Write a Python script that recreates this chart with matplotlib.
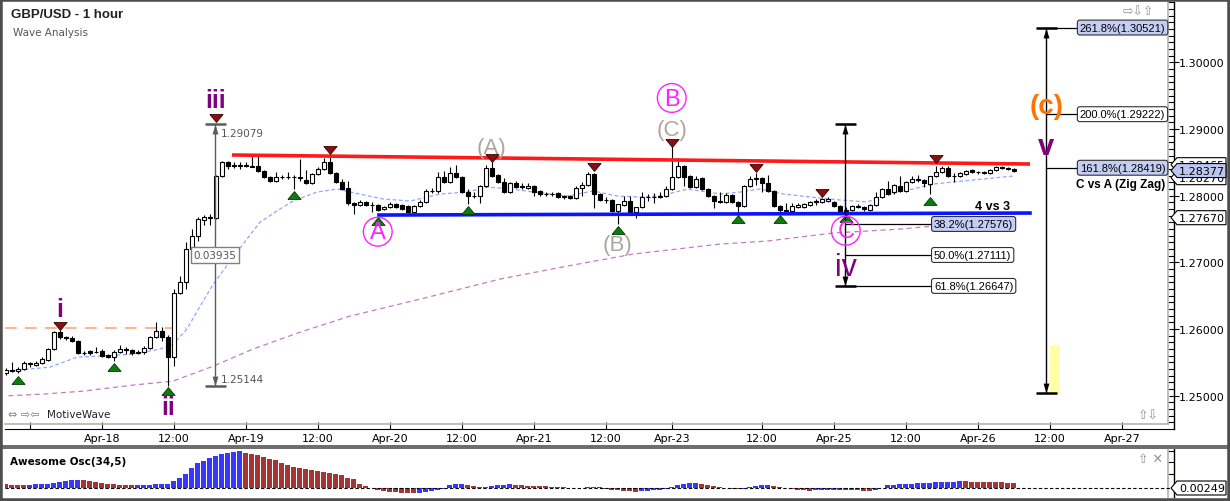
import numpy as np
import matplotlib
matplotlib.use("Agg")
import matplotlib.pyplot as plt
from matplotlib.patches import Polygon, Rectangle
from matplotlib.lines import Line2D
from matplotlib.transforms import IdentityTransform
from matplotlib.ticker import MultipleLocator, FixedLocator, FuncFormatter

plt.rcParams['font.family'] = ['DejaVu Sans']
LS = 'Liberation Sans'

# ---------------- data (bar index 0 = Apr-18 00:00, 1 bar = 1 hour) ----------------
first_bar = -16
opens = [
    1.2534, 1.2538, 1.2537, 1.2540, 1.2549, 1.2546, 1.2549, 1.25535, 1.2570, 1.2595,
    1.2588, 1.25865, 1.2582, 1.2564, 1.2567, 1.2565, 1.2567, 1.2561, 1.2558, 1.25655,
    1.2570, 1.25685, 1.2564, 1.25655, 1.25715, 1.2588, 1.2597, 1.2588, 1.2558, 1.2654,
    1.26705, 1.2720, 1.27395, 1.27635, 1.2768, 1.27665, 1.28295, 1.28505, 1.28445, 1.2846,
    1.2845, 1.28445, 1.28445, 1.2837, 1.2828, 1.2822, 1.2828, 1.28275, 1.2828, 1.28275,
    1.28235, 1.2819, 1.28325, 1.2840, 1.28505, 1.2834, 1.28205, 1.28115, 1.2789, 1.2786,
    1.27905, 1.2786, 1.2786, 1.2780, 1.2783, 1.27875, 1.2786, 1.27845, 1.27755, 1.27845,
    1.27905, 1.2807, 1.28065, 1.2828, 1.28205, 1.2834, 1.2828, 1.28055, 1.27995, 1.2799,
    1.28145, 1.28415, 1.2831, 1.28205, 1.28055, 1.2819, 1.2813, 1.28115, 1.28145, 1.2807,
    1.28025, 1.2802, 1.2804, 1.2798, 1.27995, 1.27965, 1.28115, 1.2816, 1.28325, 1.28025,
    1.27935, 1.27935, 1.2777, 1.2786, 1.2792, 1.27755, 1.2783, 1.2798, 1.27975, 1.2798,
    1.27995, 1.2810, 1.2828, 1.28445, 1.28295, 1.2813, 1.28265, 1.2810, 1.27995, 1.2792,
    1.27905, 1.2801, 1.27905, 1.27845, 1.28145, 1.2825, 1.28265, 1.2819, 1.2807, 1.27845,
    1.27785, 1.2777, 1.2783, 1.2783, 1.2786, 1.27905, 1.27905, 1.2792, 1.27905, 1.27845,
    1.2777, 1.27785, 1.27845, 1.2783, 1.27785, 1.2786, 1.2798, 1.2810, 1.28055, 1.28145,
    1.2807, 1.28205, 1.2825, 1.28235, 1.28175, 1.28295, 1.28355, 1.28415, 1.28295, 1.28295,
    1.28325, 1.28385, 1.28355, 1.2835, 1.2834, 1.28385, 1.2843, 1.2842, 1.2840,
]
highs = [
    1.25415, 1.25505, 1.2543, 1.2552, 1.25505, 1.2552, 1.2558, 1.25715, 1.2597, 1.25985,
    1.2590, 1.2589, 1.2583, 1.2567, 1.25685, 1.2573, 1.2570, 1.25625, 1.25685, 1.2576,
    1.2573, 1.2570, 1.25685, 1.25745, 1.25895, 1.26105, 1.2603, 1.2591, 1.2660, 1.26795,
    1.27305, 1.2750, 1.2768, 1.2771, 1.27725, 1.2831, 1.2852, 1.2852, 1.28505, 1.28505,
    1.28505, 1.28595, 1.28595, 1.28385, 1.28295, 1.28355, 1.2831, 1.28355, 1.2831, 1.2855,
    1.28385, 1.2834, 1.2843, 1.28565, 1.2858, 1.28355, 1.2825, 1.2822, 1.27905, 1.27935,
    1.2792, 1.27905, 1.27875, 1.27845, 1.27905, 1.2789, 1.27875, 1.2786, 1.2786, 1.27935,
    1.2810, 1.28115, 1.28355, 1.2837, 1.2843, 1.2846, 1.28295, 1.2810, 1.28055, 1.2816,
    1.2846, 1.2852, 1.28325, 1.28265, 1.2820, 1.2822, 1.2819, 1.2819, 1.2816, 1.28085,
    1.28055, 1.28055, 1.28055, 1.2801, 1.2801, 1.28145, 1.28205, 1.28355, 1.2834, 1.2804,
    1.2798, 1.2795, 1.27875, 1.27995, 1.27995, 1.2783, 1.28055, 1.28025, 1.2804, 1.28055,
    1.28145, 1.28745, 1.28565, 1.2846, 1.2831, 1.28295, 1.2828, 1.28115, 1.2801, 1.28055,
    1.2804, 1.28025, 1.2792, 1.2816, 1.28295, 1.2834, 1.2828, 1.2831, 1.28085, 1.2786,
    1.2789, 1.2789, 1.2789, 1.2789, 1.2792, 1.2795, 1.27965, 1.2798, 1.2792, 1.2786,
    1.2783, 1.2786, 1.27875, 1.27845, 1.27875, 1.28055, 1.28115, 1.2822, 1.28175, 1.28295,
    1.2822, 1.28295, 1.2831, 1.2825, 1.28295, 1.28445, 1.28445, 1.28445, 1.2834, 1.28355,
    1.28385, 1.2840, 1.2837, 1.28365, 1.2840, 1.28445, 1.28445, 1.2843, 1.2841,
]
lows = [
    1.2531, 1.25355, 1.2534, 1.25385, 1.2543, 1.25445, 1.25475, 1.2552, 1.25685, 1.2585,
    1.25835, 1.25805, 1.25625, 1.2561, 1.2561, 1.2564, 1.2558, 1.25565, 1.2552, 1.2564,
    1.25625, 1.2561, 1.25625, 1.25625, 1.2570, 1.25865, 1.2582, 1.25145, 1.25445, 1.26525,
    1.2660, 1.27185, 1.2732, 1.2756, 1.2756, 1.2765, 1.2828, 1.2840, 1.28415, 1.2840,
    1.2843, 1.2843, 1.28355, 1.2826, 1.28205, 1.28205, 1.2825, 1.2825, 1.2810, 1.2822,
    1.28175, 1.28175, 1.2831, 1.28385, 1.2832, 1.2819, 1.28085, 1.2786, 1.27725, 1.27845,
    1.27845, 1.27755, 1.2777, 1.27785, 1.27815, 1.27815, 1.27785, 1.2774, 1.2774, 1.2783,
    1.2789, 1.2804, 1.2804, 1.28195, 1.2819, 1.28265, 1.2804, 1.27875, 1.27965, 1.2789,
    1.2813, 1.2828, 1.2819, 1.2804, 1.2804, 1.28115, 1.2810, 1.2810, 1.27995, 1.27995,
    1.27995, 1.27995, 1.27965, 1.2795, 1.2795, 1.2795, 1.27995, 1.28145, 1.27815, 1.2792,
    1.2789, 1.27755, 1.27575, 1.27845, 1.2774, 1.27665, 1.27815, 1.2792, 1.2789, 1.27965,
    1.2798, 1.28085, 1.28265, 1.28145, 1.28115, 1.28115, 1.28085, 1.2798, 1.27815, 1.2789,
    1.2789, 1.2789, 1.27725, 1.2783, 1.2813, 1.2816, 1.28055, 1.28055, 1.2783, 1.27725,
    1.27755, 1.27755, 1.27815, 1.27815, 1.27845, 1.2786, 1.2789, 1.27905, 1.2783, 1.27755,
    1.27755, 1.2777, 1.27815, 1.2777, 1.2777, 1.27845, 1.27965, 1.2801, 1.28025, 1.28055,
    1.28055, 1.2819, 1.28205, 1.2813, 1.28025, 1.2828, 1.2834, 1.2828, 1.28205, 1.2828,
    1.2831, 1.2834, 1.28325, 1.28325, 1.28325, 1.2837, 1.2840, 1.28385, 1.2836,
]
closes = [
    1.25385, 1.2537, 1.2540, 1.2549, 1.25475, 1.2549, 1.2555, 1.2570, 1.25955, 1.2588,
    1.25865, 1.2582, 1.2564, 1.25635, 1.2564, 1.25655, 1.25595, 1.2558, 1.25655, 1.2570,
    1.25685, 1.2564, 1.25655, 1.25715, 1.2588, 1.2597, 1.2588, 1.2558, 1.2654, 1.26705,
    1.2720, 1.27395, 1.2765, 1.2768, 1.27665, 1.28295, 1.28505, 1.28445, 1.2846, 1.2845,
    1.28445, 1.28435, 1.2837, 1.2828, 1.2822, 1.2828, 1.28275, 1.2828, 1.28275, 1.2827,
    1.2819, 1.28325, 1.2840, 1.28505, 1.2834, 1.28205, 1.2810, 1.2789, 1.2786, 1.27905,
    1.2786, 1.27855, 1.27785, 1.2783, 1.27875, 1.2783, 1.2780, 1.27755, 1.27845, 1.27905,
    1.2807, 1.28065, 1.2828, 1.28205, 1.2834, 1.2828, 1.28055, 1.27995, 1.2799, 1.28145,
    1.28415, 1.28295, 1.28205, 1.28055, 1.2819, 1.2813, 1.28145, 1.28145, 1.28055, 1.28025,
    1.2802, 1.28025, 1.2798, 1.27995, 1.27965, 1.28115, 1.2816, 1.28325, 1.28025, 1.27935,
    1.2793, 1.2777, 1.27875, 1.2792, 1.27755, 1.2783, 1.2798, 1.27975, 1.2798, 1.27995,
    1.2810, 1.2828, 1.28445, 1.2828, 1.2813, 1.2825, 1.2810, 1.27995, 1.2792, 1.27905,
    1.2801, 1.27905, 1.27845, 1.28145, 1.2825, 1.28265, 1.2819, 1.2807, 1.27845, 1.27785,
    1.2777, 1.27845, 1.2786, 1.27875, 1.27905, 1.27905, 1.2795, 1.2795, 1.27845, 1.2777,
    1.2778, 1.27845, 1.2783, 1.2780, 1.2786, 1.2798, 1.2810, 1.28025, 1.2816, 1.2807,
    1.28205, 1.2825, 1.28235, 1.2819, 1.28295, 1.28355, 1.28415, 1.28295, 1.2829, 1.2834,
    1.2837, 1.28355, 1.2835, 1.2834, 1.28385, 1.2843, 1.2842, 1.2840, 1.28377,
]

# Awesome Oscillator (34,5), in units of 1e-4
ao_e4 = [
    18, 17.5, 17, 16.5, 17, 18, 19.5, 22, 26.5, 31.5,
    36.5, 40, 41.5, 40, 35, 28.5, 23.5, 20, 18.5, 17.5,
    16.5, 15.5, 16, 16.5, 17, 18, 19.5, 21.5, 35, 50,
    71.5, 100, 125, 136.5, 151.5, 160, 170, 175, 180, 183.5,
    176.5, 171.5, 166.5, 155, 146.5, 141.5, 125, 113.5, 106.5, 101.5,
    96.5, 91.5, 86.5, 80, 75, 68.5, 63.5, 51.5, 46.5, 18.5,
    8.5, -1.5, -11.5, -16.5, -20, -21.5, -22.5, -23, -23.5, -22.5,
    -20, -16.5, -10, -3.5, 13.5, 18.5, 21.5, 16.5, 10, 6.5,
    5, 10, 13.5, 16.5, 20, 16.5, 13.5, 11.5, 10, 9.5,
    8.5, 6.5, 5, 3, 1.5, 1, 0.5, 5, 6, 6.5,
    -2.5, -7.5, -11.5, -15, -16.5, -17.5, -16, -14.5, -12, -9,
    -5, 5, 16.5, 20, 25, 26.5, 21.5, 13.5, 8.5, 3.5,
    1, -5, -6.5, -4, 5, 11.5, 15, 16.5, 11.5, 5,
    -1.5, -6.5, -10, -11.5, -12.5, -11.5, -10.5, -9.5, -9, -8.5,
    -10, -11.5, -12, -12.5, -13, -7.5, 2.5, 13.5, 16.5, 18.5,
    20, 21.5, 23.5, 25, 26.5, 28.5, 30, 31.5, 32.5, 33.5,
    33, 32.5, 31.5, 31, 30.5, 30, 28.5, 26.5, 25,
]

# moving averages
fast_x = [-17, -8.6, -4.1, -0.3, 5.2, 9.7, 11.9, 14.2, 16.4, 18.6,
          21.9, 24.2, 26.4, 29.7, 31.9, 35.9, 39.2, 41.4, 46.9, 51.4,
          56.4, 60.9, 64.2, 68.1, 72.0, 77.6, 81.9, 85.9, 89.7, 93.1,
          97.6, 100.9, 103.1, 106.4, 109.7, 113.6, 118.1, 123.1, 127.6, 130.9,
          135.2, 138.6, 141.9, 146.9, 151.9]
fast_y = [1.2536, 1.2543, 1.2558, 1.25595, 1.25625, 1.2570, 1.25775, 1.2600, 1.26345, 1.26675,
          1.2708, 1.2735, 1.27605, 1.2780, 1.2792, 1.28055, 1.2810, 1.28055, 1.2795, 1.2792,
          1.28025, 1.28055, 1.2813, 1.2810, 1.28055, 1.27995, 1.2807, 1.27995, 1.2798, 1.27995,
          1.2810, 1.28055, 1.28025, 1.28055, 1.2810, 1.28025, 1.2798, 1.27935, 1.27905, 1.28025,
          1.2810, 1.28175, 1.28205, 1.2825, 1.28295]
slow_x = [-17, -9.8, -3.1, 5.2, 11.9, 18.6, 25.2, 33.1, 41.4, 53.1,
          66.4, 77.6, 88.6, 103.1, 110.9, 121.9, 133.1, 138.6, 151.9]
slow_y = [1.24995, 1.25025, 1.2507, 1.2516, 1.2522, 1.25445, 1.2570, 1.25955, 1.26195, 1.2645,
          1.2675, 1.26945, 1.27125, 1.27275, 1.2732, 1.2744, 1.2750, 1.27545, 1.27605]

tick_pos = [-12, 0, 12, 24, 36, 48, 60, 72, 84, 95, 110, 122, 134, 146, 158, 170]
tick_lab = ['', 'Apr-18', '12:00', 'Apr-19', '12:00', 'Apr-20', '12:00', 'Apr-21',
            '12:00', 'Apr-23', '12:00', 'Apr-25', '12:00', 'Apr-26', '12:00', 'Apr-27']

# swing markers
green_x = [-14, 2, 11, 32, 46, 61, 86, 106, 113, 124, 138]
green_y = [1.25243, 1.2543, 1.2507, 1.28005, 1.27615, 1.27785, 1.27485, 1.2765, 1.2765, 1.27665, 1.27927]
red_x = [-7, 19, 38, 65, 82, 95, 109, 120, 139]
red_y = [1.2604, 1.29165, 1.28685, 1.28565, 1.2843, 1.2879, 1.28415, 1.28033, 1.2855]

# trend lines
red_line_x, red_line_y = [21.7, 154.7], [1.2861, 1.28475]
blue_line_x, blue_line_y = [45.9, 155.0], [1.2771, 1.2774]
orange_level, orange_x = 1.26015, [-16.2, 14]

# wave iii measurement and fib projections
wave_ii_low, wave_iii_high = 1.25144, 1.29079
fib_iv_pct = ['38.2', '50.0', '61.8']
fib_iv_lvl = [1.27576, 1.27111, 1.26647]
fib_iv_hi = [True, False, False]
fib_c_pct = ['261.8', '200.0', '161.8']
fib_c_lvl = [1.30521, 1.29222, 1.28419]
fib_c_hi = [True, False, True]
fib_c_bottom = 1.25042

# ---------------- figure ----------------
W, H = 1230, 502
fig = plt.figure(figsize=(W / 100, H / 100), dpi=100)
fig.patch.set_facecolor('white')


def rect(x0, y0, x1, y1):
    return [x0 / W, 1 - y1 / H, (x1 - x0) / W, (y1 - y0) / H]


def px(x, y):
    return x / W, 1 - y / H


ax = fig.add_axes(rect(5, 3, 1174, 430))
osc = fig.add_axes(rect(5, 449, 1174, 498))
for a in (ax, osc):
    a.set_xlim(-16.12, 178.7)
    a.set_facecolor('white')
    a.spines['top'].set_visible(False)
    a.spines['left'].set_visible(False)
    a.spines['right'].set_linewidth(1)
ax.set_ylim(1.24502, 1.30904)
osc.set_ylim(-0.0045, 0.020)
osc.spines['bottom'].set_visible(False)

# inner gray frame
gx = (1168 - 5) / (1174 - 5)
gy = (430 - 425) / (430 - 3)
ax.add_line(Line2D([gx, gx], [gy, 1], transform=ax.transAxes, color='#b4b4aa', lw=1.2, clip_on=False))
ax.add_line(Line2D([0, gx], [gy, gy], transform=ax.transAxes, color='#b4b4aa', lw=1.2, clip_on=False))
osc.add_line(Line2D([gx, gx], [0, 1], transform=osc.transAxes, color='#b4b4aa', lw=1.2, clip_on=False))

# moving averages & orange level
ax.plot(slow_x, slow_y, color='#c47ac4', lw=0.9, ls=(0, (4, 3)), zorder=2)
ax.plot(fast_x, fast_y, color='#8ea6ff', lw=0.9, ls=(0, (3, 2)), zorder=2)
ax.hlines(orange_level, orange_x[0], orange_x[1], color='#ffa878', lw=1.2,
          linestyles=[(0, (7, 5))], zorder=2)

# candles
x = np.arange(first_bar, first_bar + len(closes))
o, hi, lo, c = (np.array(v) for v in (opens, highs, lows, closes))
ax.vlines(x, lo, hi, color='black', lw=0.8, zorder=3)
up = c > o
bot = np.minimum(o, c)
hgt = np.maximum(np.abs(c - o), 0.0001)
ax.bar(x[up], hgt[up], bottom=bot[up], width=0.66, color='white', edgecolor='black', lw=0.8, zorder=4)
ax.bar(x[~up], hgt[~up], bottom=bot[~up], width=0.66, color='black', edgecolor='black', lw=0.8, zorder=4)

# trend lines
ax.plot(red_line_x, red_line_y, color='#ff1a1a', lw=2.6, zorder=5, solid_capstyle='butt')
ax.plot(blue_line_x, blue_line_y, color='#0a14ff', lw=2.6, zorder=5, solid_capstyle='butt')

# swing triangles
TRI_UP = [(-1, -0.6), (1, -0.6), (0, 0.6), (-1, -0.6)]
TRI_DN = [(-1, 0.6), (1, 0.6), (0, -0.6), (-1, 0.6)]
ax.scatter(green_x, green_y, marker=TRI_UP, s=90, color='#0b7d0b', edgecolors='#083808', lw=0.6, zorder=6)
ax.scatter(red_x, red_y, marker=TRI_DN, s=90, color='#8a1010', edgecolors='#3a0000', lw=0.6, zorder=6)

# measurement tools
HEAD_UP = [(-0.6, -1), (0.6, -1), (0, 1), (-0.6, -1)]
HEAD_DN = [(-0.6, 1), (0.6, 1), (0, -1), (-0.6, 1)]


def measure(xc, top, bottom, color):
    ax.vlines(xc, bottom, top, color=color, lw=1.0, zorder=7)
    ax.hlines([top, bottom], xc - 1.75, xc + 1.75, color=color, lw=1.8, zorder=7)
    ax.scatter([xc], [top - 0.0008], marker=HEAD_UP, s=50, color=color, lw=0, zorder=7)
    ax.scatter([xc], [bottom + 0.0008], marker=HEAD_DN, s=50, color=color, lw=0, zorder=7)


measure(18.9, wave_iii_high, wave_ii_low, '#5c5c5c')
ax.text(19.9, wave_iii_high - 0.00135, f'{wave_iii_high:.5f}', fontsize=7.5, color='#555555',
        va='center', ha='left', zorder=8)
ax.text(19.9, wave_ii_low + 0.0011, f'{wave_ii_low:.5f}', fontsize=7.5, color='#555555',
        va='center', ha='left', zorder=8)
ax.text(18.9, (wave_iii_high + wave_ii_low) / 2, f'{wave_iii_high - wave_ii_low:.5f}',
        fontsize=7.5, color='#555555', va='center', ha='center', zorder=8,
        bbox=dict(boxstyle='square,pad=0.25', fc='white', ec='#808080', lw=1))

measure(123.9, wave_iii_high, fib_iv_lvl[-1], 'black')
measure(157.4, fib_c_lvl[0], fib_c_bottom, 'black')


def fib_boxes(xc, xb, pcts, lvls, hilite):
    for p, lv, h in zip(pcts, lvls, hilite):
        ax.hlines(lv, xc, xb, color='black', lw=0.9, zorder=6)
        ax.text(xb + 0.3, lv, f'{p}%({lv:.5f})', fontsize=8, family=LS, va='center', ha='left',
                zorder=8, bbox=dict(boxstyle='round,pad=0.22', fc='#c4cdf3' if h else 'white',
                                    ec='#303030', lw=0.8))


fib_boxes(123.9, 138.4, fib_iv_pct, fib_iv_lvl, fib_iv_hi)
fib_boxes(157.4, 162.7, fib_c_pct, fib_c_lvl, fib_c_hi)
ax.text(162.4, 1.28175, 'C vs A (Zig Zag)', fontsize=8.5, family=LS, fontweight='bold',
        va='center', ha='left', zorder=8)
ax.text(151.4, 1.27845, '4 vs 3', fontsize=9, family=LS, fontweight='bold',
        va='center', ha='right', zorder=8)

ax.add_patch(Rectangle((158.05, 1.25025), 1.65, 0.00735, fc='#ffffa6', ec='none', zorder=1))

# wave labels
PURPLE, ORANGE, GRAY, MAG = '#800080', '#ff7400', '#aca69c', '#ff22ff'
labels = [
    ('i', -7, 1.2630, PURPLE, 18, 'bold'),
    ('ii', 11, 1.2483, PURPLE, 18, 'bold'),
    ('iii', 19, 1.29435, PURPLE, 18, 'bold'),
    ('iv', 124, 1.2693, PURPLE, 22, 'normal'),
    ('v', 157.4, 1.28745, PURPLE, 21, 'bold'),
    ('(c)', 157.4, 1.29345, ORANGE, 20, 'bold'),
    ('(A)', 65, 1.2873, GRAY, 16, 'normal'),
    ('(B)', 86, 1.27275, GRAY, 16, 'normal'),
    ('(C)', 95, 1.2899, GRAY, 16, 'normal'),
]
for t, lx, ly, col, fs, fw in labels:
    ax.text(lx, ly, t, color=col, fontsize=fs, fontweight=fw, family=LS,
            ha='center', va='center', zorder=9)

circ_lab = ['A', 'B', 'C']
circ_x = [46, 95, 124]
circ_y = [1.2746, 1.29465, 1.27475]
ax.scatter(circ_x, circ_y, marker='o', s=430, facecolors='none', edgecolors=MAG, lw=1, zorder=9)
for t, cx, cy in zip(circ_lab, circ_x, circ_y):
    ax.text(cx, cy - 0.0001, t, color=MAG, fontsize=17, family=LS, ha='center', va='center', zorder=9)

# axes ticks
ax.yaxis.tick_right()
ax.yaxis.set_major_locator(FixedLocator(np.arange(1.25, 1.30001, 0.01)))
ax.yaxis.set_major_formatter(FuncFormatter(lambda v, p: f'{v:.5f}'))
ax.yaxis.set_minor_locator(MultipleLocator(0.001))
ax.tick_params(axis='y', which='major', direction='inout', length=7, width=0.8, labelsize=8, pad=0)
ax.tick_params(axis='y', which='minor', direction='in', length=4, width=0.8)
ax.set_xticks(tick_pos, tick_lab)
ax.tick_params(axis='x', direction='in', length=5, width=0.8, labelsize=8, pad=3)

# awesome oscillator
ao = np.array(ao_e4) * 1e-4
xa = np.arange(first_bar, first_bar + len(ao))
rising = np.diff(ao, prepend=ao[0] + 1) > 0
osc.bar(xa, ao, width=0.8, color=np.where(rising, '#3737ff', '#a53535'), zorder=3)
osc.axhline(0, color='black', lw=0.8, ls=(0, (3, 2)), zorder=4)
osc.yaxis.tick_right()
osc.set_yticks([0.0185, 0.013, 0.007], labels=[])
osc.tick_params(axis='y', direction='in', length=4, width=0.8)
osc.tick_params(axis='x', bottom=False, labelbottom=False)


# price tags on the right axis
def price_tag(a, value, text, fc, z):
    x0 = a.transAxes.transform((1, 0))[0]
    y0 = a.transData.transform((0, value))[1]
    hh = 7
    pts = [(x0 - 3, y0), (x0 + 3, y0 + hh), (x0 + 52, y0 + hh), (x0 + 52, y0 - hh), (x0 + 3, y0 - hh)]
    fig.add_artist(Polygon(pts, closed=True, transform=IdentityTransform(), fc=fc, ec='black',
                           lw=0.8, zorder=z))
    fig.text(x0 + 5, y0, text, transform=IdentityTransform(), fontsize=8, va='center', ha='left',
             zorder=z + 0.5)


price_tag(ax, 1.28465, '1.28465', 'white', 10)
price_tag(ax, 1.28270, '1.28270', 'white', 11)
price_tag(ax, closes[-1], f'{closes[-1]:.5f}', '#bcc6f2', 12)
price_tag(ax, 1.27670, '1.27670', 'white', 10)
price_tag(osc, 0.0, '0.00249', 'white', 10)

# window chrome & captions
fig.add_artist(Rectangle((0, 1 - 450 / H), 1, 4 / H, transform=fig.transFigure,
                         fc='#6e6e6e', ec='none', zorder=20))
fig.add_artist(Rectangle((0, 0), 1, 1, transform=fig.transFigure, fill=False,
                         ec='#4e4e4e', lw=4, zorder=20))
fig.text(*px(11, 15), 'GBP/USD - 1 hour', fontsize=9.5, fontweight='bold', family=LS,
         va='center', ha='left', color='#222222')
fig.text(*px(13, 33), 'Wave Analysis', fontsize=7.5, color='#555555', va='center', ha='left')
fig.text(*px(8, 415), '\u21d4 \u21e8\u21e6', fontsize=8, color='#808080', va='center', ha='left')
fig.text(*px(47, 415), 'MotiveWave', fontsize=7.5, color='#222222', va='center', ha='left')
fig.text(*px(10, 462), 'Awesome Osc(34,5)', fontsize=7.5, fontweight='bold', va='center', ha='left')
fig.text(*px(1123, 12), '\u21e8\u21e9\u21e7', fontsize=9, color='#909090', va='center', ha='left')
fig.text(*px(1138, 416), '\u21e7\u21e9', fontsize=9, color='#909090', va='center', ha='left')
fig.text(*px(1138, 460), '\u21e7 \u2715', fontsize=9, color='#909090', va='center', ha='left')

fig.savefig('out.png', dpi=100)
